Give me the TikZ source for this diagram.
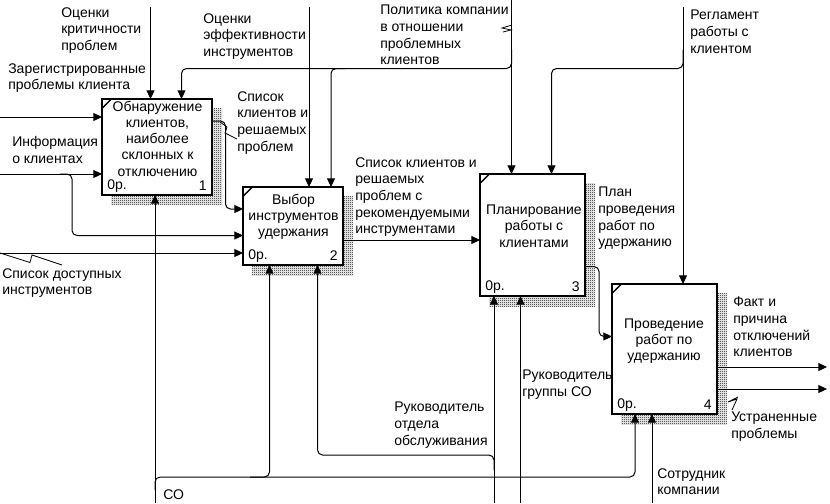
\documentclass[tikz,border=0pt]{standalone}
\usepackage{fontspec}
\setmainfont{Liberation Sans}
\usetikzlibrary{arrows.meta,patterns}
\pgfdeclarepatternformonly{pixdots}{\pgfpointorigin}{\pgfpoint{1.5pt}{1.5pt}}{\pgfpoint{1.5pt}{1.5pt}}{
	\pgfpathrectangle{\pgfpointorigin}{\pgfpoint{0.75pt}{0.75pt}}
	\pgfpathrectangle{\pgfpoint{0.75pt}{0.75pt}}{\pgfpoint{0.75pt}{0.75pt}}
	\pgfusepath{fill}
}
\tikzset{
	idefbox/.style={draw,fill=white,line width=1.5pt,inner sep=0,outer sep=0},
	boxshadow/.style={pattern=pixdots,pattern color=black},
	boxtick/.style={line width=1pt},
	flow/.style={line width=0.75pt,rounded corners=3.75pt,-{Triangle[length=6.5pt,width=6pt]}},
	branch/.style={line width=0.75pt,rounded corners=3.75pt},
	squiggle/.style={line width=0.6pt},
	lbl/.style={font=\fontsize{10.5}{12.5}\selectfont,align=left,inner sep=0,anchor=north west},
	boxtxt/.style={font=\fontsize{10.5}{12.2}\selectfont,align=center,inner sep=0},
	cost/.style={font=\fontsize{10.5}{12}\selectfont,inner sep=0,anchor=west},
	boxno/.style={font=\fontsize{10.5}{12}\selectfont,inner sep=0,anchor=east}
}
\begin{document}
\begin{tikzpicture}[x=0.75pt,y=-0.75pt]
	\useasboundingbox (0,0) rectangle (830,503);
	% shadows
	\fill [boxshadow] (111,108) rectangle (222,204);
	\fill [boxshadow] (252,196) rectangle (353,275);
	\fill [boxshadow] (489,183) rectangle (595,306);
	\fill [boxshadow] (621,293) rectangle (727,424);
	% boxes
	\node [idefbox,minimum width=82.5pt,minimum height=72pt] (box1) at (157,147) {};
	\node [idefbox,minimum width=75pt,minimum height=58.5pt] (box2) at (293,226) {};
	\node [idefbox,minimum width=78.75pt,minimum height=91.5pt] (box3) at (532.5,235) {};
	\node [idefbox,minimum width=78.75pt,minimum height=97.5pt] (box4) at (664.5,349) {};
	\draw [boxtick] ([yshift=-7pt]box1.north west) -- ([xshift=7pt]box1.north west);
	\draw [boxtick] ([yshift=-7pt]box2.north west) -- ([xshift=7pt]box2.north west);
	\draw [boxtick] ([yshift=-7pt]box3.north west) -- ([xshift=7pt]box3.north west);
	\draw [boxtick] ([yshift=-7pt]box4.north west) -- ([xshift=7pt]box4.north west);
	% free ends
	\coordinate (critical) at (150.5,7);
	\coordinate (toolrate) at (309,7);
	\coordinate (policy) at (511.5,0);
	\coordinate (rules) at (683,7);
	\coordinate (problems) at (0,117);
	\coordinate (clients) at (0,174);
	\coordinate (tools) at (0,253);
	\coordinate (staff) at (155,503);
	\coordinate (chief) at (494,503);
	\coordinate (lead) at (520.5,503);
	\coordinate (worker) at (652,503);
	\coordinate (factEnd) at (827,367);
	\coordinate (fixedEnd) at (827,389);
	% controls
	\draw [flow] (critical) -- (critical |- box1.north);
	\draw [flow] (toolrate) -- (toolrate |- box2.north);
	\draw [flow] (policy) -- (policy |- box3.north);
	\draw [flow] (rules) -- (rules |- box4.north);
	\draw [flow] (511.5,50) |- (181.5,68.5) -- (181.5,99);
	\draw [flow] (345,68.5) -| (331,187);
	\draw [flow] (683,50) |- (551.5,68.5) -- (551.5,174);
	% inputs
	\draw [flow] (problems) -- (problems -| box1.west);
	\draw [flow] (clients) -- (clients -| box1.west);
	\draw [flow] (60,174) -| (72,235.5) -- (243,235.5);
	\draw [flow] (tools) -- (tools -| box2.west);
	% outputs
	\draw [flow] (212,121) -| (225.5,209) -- (243,209);
	\draw [flow] (343,240) -- (480,240);
	\draw [flow] (585,266.5) -| (599,336.5) -- (612,336.5);
	\draw [flow] (box4.east |- factEnd) -- (factEnd);
	\draw [flow] (box4.east |- fixedEnd) -- (fixedEnd);
	% mechanisms
	\draw [flow] (staff) -- (staff |- box1.south);
	\draw [flow] (155,490) |- (635,477) -- (635,414);
	\draw [flow] (250,477) -| (269.5,265);
	\draw [flow] (chief) -- (chief |- box3.south);
	\draw [flow] (494,470) |- (317.5,455) -- (317.5,265);
	\draw [flow] (lead) -- (lead |- box3.south);
	\draw [flow] (worker) -- (worker |- box4.south);
	% squiggles
	\draw [squiggle] (220,122) -- (227,127) -- (225,133) -- (237,139);
	\draw [squiggle] (512,25) -- (502,28) -- (511,30) -- (503,32);
	\draw [squiggle] (738,397) -- (728,402) -- (737,399) -- (732,410);
	\draw [squiggle] (0,253) -- (30,262.5) -- (32,255) -- (62,265);
	% box texts
	\node [boxtxt] (text1) at (157.5,138.5) {Обнаружение\\клиентов,\\наиболее\\склонных к\\отключению};
	\node [boxtxt] (text2) at (293.5,217) {Выбор\\инструментов\\удержания};
	\node [boxtxt] (text3) at (534,226) {Планирование\\работы с\\клиентами};
	\node [boxtxt] (text4) at (664,341) {Проведение\\работ по\\удержанию};
	\node [cost] (cost1) at ([shift={(5,-9)}]box1.south west) {0р.};
	\node [cost] (cost2) at ([shift={(5,-9)}]box2.south west) {0р.};
	\node [cost] (cost3) at ([shift={(5,-9)}]box3.south west) {0р.};
	\node [cost] (cost4) at ([shift={(5,-9)}]box4.south west) {0р.};
	\node [boxno] (no1) at ([shift={(-5,-9)}]box1.south east) {1};
	\node [boxno] (no2) at ([shift={(-5,-9)}]box2.south east) {2};
	\node [boxno] (no3) at ([shift={(-5,-9)}]box3.south east) {3};
	\node [boxno] (no4) at ([shift={(-5,-9)}]box4.south east) {4};
	% labels
	\node [lbl] (lcritical) at (61,7) {Оценки\\критичности\\проблем};
	\node [lbl] (lproblems) at (8,63) {Зарегистрированные\\проблемы клиента};
	\node [lbl] (lclients) at (12,136) {Информация\\о клиентах};
	\node [lbl] (ltoolrate) at (203,13) {Оценки\\эффективности\\инструментов};
	\node [lbl] (lpolicy) at (380,5) {Политика компании\\в отношении\\проблемных\\клиентов};
	\node [lbl] (lrules) at (690,10) {Регламент\\работы с\\клиентом};
	\node [lbl] (llist) at (237,91) {Список\\клиентов и\\решаемых\\проблем};
	\node [lbl] (lrecommend) at (355,157) {Список клиентов и\\решаемых\\проблем с\\рекомендуемыми\\инструментами};
	\node [lbl] (lplan) at (598,187) {План\\проведения\\работ по\\удержанию};
	\node [lbl] (lfact) at (733,297) {Факт и\\причина\\отключений\\клиентов};
	\node [lbl] (lfixed) at (731,412) {Устраненные\\проблемы};
	\node [lbl] (lworker) at (657,468) {Сотрудник\\компании};
	\node [lbl] (llead) at (522,370) {Руководитель\\группы СО};
	\node [lbl] (lchief) at (394,402) {Руководитель\\отдела\\обслуживания};
	\node [lbl] (ltools) at (2,268) {Список доступных\\инструментов};
	\node [lbl] (lstaff) at (163,489) {СО};
\end{tikzpicture}
\end{document}
